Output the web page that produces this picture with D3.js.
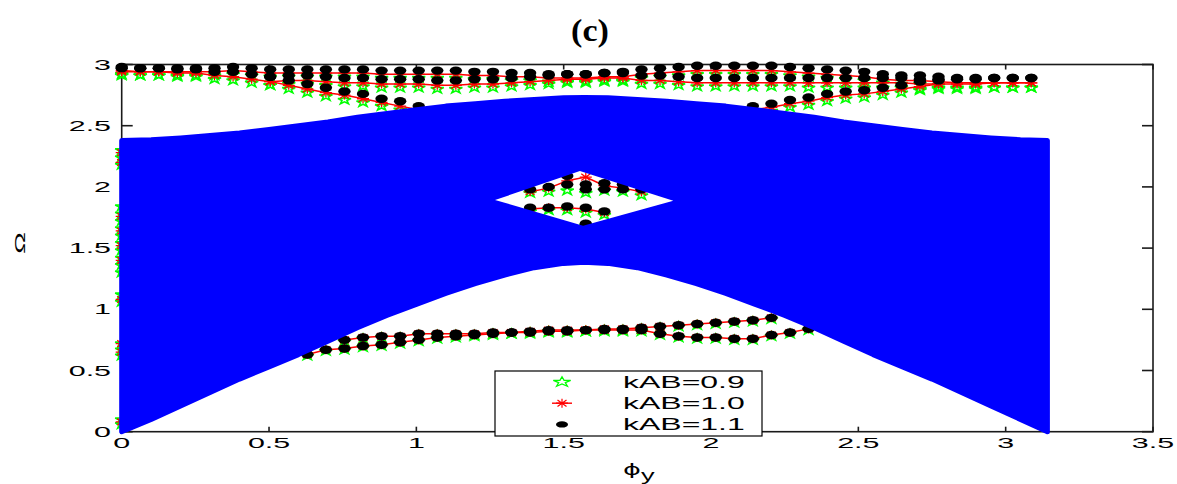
<!DOCTYPE html>
<html>
<head>
<meta charset="UTF-8">
<title>(c) edge bands for kAB</title>
<script src="https://cdn.jsdelivr.net/npm/d3@7"></script>
<style>
  body { margin: 0; background: #fff; }
  svg { display: block; }
  .lbl { font-family: "Liberation Sans", Arial, sans-serif; fill: #000; }
</style>
</head>
<body>
<svg id="chart" width="1177" height="484"></svg>
<script>
// ---- data ----
const xTicks = [0, 0.5, 1, 1.5, 2, 2.5, 3, 3.5];
const xTickLabels = ["0", "0.5", "1", "1.5", "2", "2.5", "3", "3.5"];
const yTicks = [0, 0.5, 1, 1.5, 2, 2.5, 3];
const yTickLabels = ["0", "0.5", "1", "1.5", "2", "2.5", "3"];
const legendLabels = ["kAB=0.9", "kAB=1.0", "kAB=1.1"];

// phi_y sample points of the edge-state markers
const phi = [0, 0.063, 0.126, 0.189, 0.252, 0.315, 0.378, 0.441, 0.504, 0.567,
  0.63, 0.693, 0.756, 0.819, 0.882, 0.945, 1.008, 1.071, 1.134, 1.197,
  1.26, 1.323, 1.386, 1.449, 1.512, 1.575, 1.638, 1.701, 1.764, 1.827,
  1.89, 1.953, 2.016, 2.079, 2.142, 2.205, 2.268, 2.331, 2.394, 2.457,
  2.52, 2.583, 2.646, 2.709, 2.772, 2.835, 2.898, 2.961, 3.024, 3.087];

// bulk band (blue), lower and upper edge
const bulkX = [0, 0.1, 0.2, 0.3, 0.4, 0.5, 0.6, 0.7, 0.8, 0.9, 1.0, 1.1, 1.2, 1.3, 1.4, 1.5, 1.57,
  1.65, 1.75, 1.85, 1.95, 2.05, 2.15, 2.25, 2.35, 2.45, 2.55, 2.65, 2.75, 2.85, 2.95, 3.05, 3.1416];
const bulkLow = [0, 0.10, 0.21, 0.32, 0.43, 0.53, 0.63, 0.74, 0.85, 0.95, 1.04, 1.13, 1.21, 1.28, 1.34, 1.375, 1.385,
  1.375, 1.34, 1.28, 1.21, 1.13, 1.04, 0.95, 0.85, 0.74, 0.63, 0.53, 0.43, 0.32, 0.21, 0.10, 0];
const bulkHigh = [2.38, 2.385, 2.40, 2.42, 2.44, 2.47, 2.50, 2.53, 2.57, 2.60, 2.63, 2.66, 2.68, 2.70, 2.715, 2.728, 2.73,
  2.728, 2.715, 2.70, 2.68, 2.66, 2.63, 2.60, 2.57, 2.53, 2.50, 2.47, 2.44, 2.42, 2.40, 2.385, 2.38];
// gap inside the bulk band
const holeX = [1.267, 1.555, 1.872, 1.566];
const holeY = [1.893, 2.13, 1.887, 1.683];

// kAB = 1.1 (black dots)
const k11T1 = [2.98,2.97,2.97,2.97,2.97,2.97,2.98,2.97,2.96,2.96, 2.96,2.96,2.96,2.96,2.95,2.95,2.95,2.95,2.95,2.94,
  2.94,2.93,2.93,2.92,2.92,2.92,2.93,2.94,2.96,2.97, 2.98,2.99,2.99,2.99,2.99,2.99,2.98,2.97,2.96,2.95,
  2.94,2.92,2.91,2.91,2.90,2.89,2.89,2.89,2.89,2.89];
const k11T2 = [2.97,2.97,2.97,2.96,2.96,2.94,2.94,2.92,2.90,2.87,2.84,2.81,2.78,2.76,2.72,2.70,2.66];
const k11T3 = [2.90,2.91,2.91,2.90,2.89,2.89,2.88,2.88,2.88,2.87, 2.87,2.88,2.88,2.89,2.90,2.91,2.92,2.92,2.93,2.93,
  2.91,2.91,2.90,2.89,2.89,2.89,2.89,2.89,2.89,2.89, 2.89,2.89,2.89,2.89,2.89,2.88,2.88,2.88,2.88,2.89, 2.89,2.89];
const k11T4 = [2.66,2.68,2.71,2.73,2.76,2.78,2.79,2.81,2.83,2.86,2.87];
const k11LA = [0.75,0.77,0.78,0.78,0.80,0.80,0.80,0.80,0.81,0.81,0.82,0.83,0.83,0.83,0.84,0.84,0.85,0.86,0.87,0.88,0.89,0.90,0.91,0.93];
const k11LB = [0.63,0.67,0.68,0.70,0.71,0.73,0.75,0.77,0.78,0.79,0.80,0.81,0.81,0.82,0.82,0.83,0.83,0.83,0.83,0.80,0.78,0.77,0.77,0.76,0.76,0.79,0.81,0.84];
const k11D1 = [1.98,2.00,2.02,2.02,2.03,2.02,1.98];
const k11D2 = [2.09,1.98,1.98,1.98];
const k11D3 = [1.83,1.83,1.84,1.83,1.80];
const k11D4 = [1.70];

// kAB = 1.0 (red asterisks with line)
const k10T1 = [2.95,2.94,2.94,2.94,2.94,2.94,2.95,2.94,2.93,2.93, 2.93,2.93,2.93,2.93,2.92,2.92,2.92,2.92,2.92,2.91,
  2.91,2.90,2.90,2.89,2.89,2.89,2.90,2.90,2.92,2.93, 2.94,2.95,2.95,2.95,2.95,2.95,2.94,2.93,2.92,2.91,
  2.90,2.88,2.87,2.87,2.86,2.85,2.85,2.85,2.85,2.85];
const k10T2 = [2.94,2.94,2.94,2.93,2.93,2.91,2.90,2.88,2.86,2.83,2.80,2.77,2.75,2.72,2.69,2.66,2.63];
const k10T3 = [2.86,2.87,2.87,2.86,2.85,2.85,2.84,2.84,2.84,2.83, 2.83,2.84,2.84,2.85,2.86,2.87,2.88,2.88,2.89,2.89,
  2.87,2.87,2.86,2.85,2.85,2.85,2.85,2.85,2.85,2.85, 2.85,2.85,2.85,2.85,2.85,2.84,2.84,2.84,2.84,2.85, 2.85,2.85];
const k10T4 = [2.63,2.65,2.68,2.70,2.73,2.75,2.76,2.78,2.80,2.82,2.84];
const k10LA = [0.75,0.77,0.78,0.78,0.80,0.80,0.80,0.80,0.81,0.81,0.82,0.83,0.83,0.83,0.84,0.84,0.85,0.86,0.87,0.88,0.89,0.90,0.91,0.93];
const k10LB = [0.63,0.67,0.68,0.70,0.71,0.73,0.75,0.77,0.78,0.79,0.80,0.81,0.81,0.82,0.82,0.83,0.83,0.83,0.83,0.80,0.78,0.77,0.77,0.76,0.76,0.79,0.81,0.84];
const k10D1 = [1.96,1.99,2.05,2.08,2.01,1.99,1.96];
const k10D3 = [1.82,1.83,1.83,1.82,1.79];
const k10D4 = [1.69];
const k10Edge = [0.08,0.65,0.72,1.08,1.40,1.52,1.64,1.76,2.20,2.28];

// kAB = 0.9 (green pentagrams)
const k09T1 = [2.92,2.91,2.91,2.91,2.91,2.91,2.92,2.91,2.90,2.90, 2.90,2.90,2.90,2.90,2.89,2.89,2.89,2.89,2.89,2.88,
  2.88,2.87,2.87,2.86,2.86,2.86,2.87,2.87,2.89,2.90, 2.91,2.92,2.92,2.92,2.92,2.92,2.91,2.90,2.89,2.88,
  2.87,2.85,2.84,2.84,2.83,2.81,2.81,2.81,2.81,2.81];
const k09T2 = [2.91,2.91,2.91,2.90,2.90,2.88,2.87,2.85,2.83,2.80,2.77,2.74,2.71,2.69,2.66,2.63,2.60];
const k09T3 = [2.83,2.84,2.84,2.83,2.82,2.82,2.81,2.81,2.81,2.80, 2.80,2.81,2.81,2.82,2.83,2.84,2.85,2.85,2.86,2.86,
  2.84,2.84,2.83,2.82,2.82,2.82,2.82,2.82,2.82,2.81, 2.81,2.81,2.81,2.81,2.81,2.80,2.80,2.80,2.80,2.81, 2.81,2.81];
const k09T4 = [2.60,2.62,2.65,2.67,2.70,2.72,2.73,2.75,2.77,2.79,2.81];
const k09LA = [0.74,0.76,0.77,0.77,0.79,0.79,0.79,0.79,0.80,0.80,0.81,0.82,0.82,0.82,0.83,0.83,0.84,0.85,0.86,0.87,0.88,0.89,0.90,0.92];
const k09LB = [0.62,0.66,0.67,0.69,0.70,0.72,0.74,0.76,0.77,0.78,0.79,0.80,0.80,0.81,0.81,0.82,0.82,0.82,0.82,0.79,0.77,0.76,0.76,0.75,0.75,0.78,0.80,0.83];
const k09D1 = [1.95,1.96,1.97,1.95,1.97,1.96,1.93];
const k09D3 = [1.80,1.81,1.81,1.79,1.77];
const k09D4 = [1.68];
const k09Edge = [0.06,0.10,0.62,0.67,0.72,1.06,1.12,1.30,1.36,1.42,1.48,1.54,1.60,1.66,1.72,1.78,1.84,2.18,2.24,2.30];

// band -> first phi index
const k09Bands = [[0, k09T1], [0, k09T2], [8, k09T3], [34, k09T4], [12, k09LA], [10, k09LB], [22, k09D1], [22, k09D3], [25, k09D4]];
const k10Bands = [[0, k10T1], [0, k10T2], [8, k10T3], [34, k10T4], [12, k10LA], [10, k10LB], [22, k10D1], [22, k10D3], [25, k10D4]];
const k11Bands = [[0, k11T1], [0, k11T2], [8, k11T3], [34, k11T4], [12, k11LA], [10, k11LB], [22, k11D1], [24, k11D2], [22, k11D3], [25, k11D4]];

// ---- drawing ----
const svg = d3.select("#chart");
const x = d3.scaleLinear().domain([0, 3.5]).range([121.7, 1153]);
const y = d3.scaleLinear().domain([0, 3]).range([431.7, 64.5]);
const SX = 2.1;   // the original figure is stretched sideways

const toPts = b => b[1].map((v, j) => [phi[b[0] + j], v]);

// axes first (data sits on top of them, as in the source)
const ax = svg.append("g").attr("stroke", "#1a1a1a").attr("stroke-width", 1.6).attr("fill", "none");
ax.append("rect").attr("x", x(0)).attr("y", y(3)).attr("width", x(3.5) - x(0)).attr("height", y(0) - y(3));
xTicks.forEach(t => {
  ax.append("line").attr("x1", x(t)).attr("x2", x(t)).attr("y1", y(0)).attr("y2", y(0) - 5);
  ax.append("line").attr("x1", x(t)).attr("x2", x(t)).attr("y1", y(3)).attr("y2", y(3) + 5);
});
yTicks.forEach(t => {
  ax.append("line").attr("x1", x(0)).attr("x2", x(0) + 11).attr("y1", y(t)).attr("y2", y(t));
  ax.append("line").attr("x1", x(3.5)).attr("x2", x(3.5) - 11).attr("y1", y(t)).attr("y2", y(t));
});

// marker shapes
const starPath = d3.symbol(d3.symbolStar, 48)();
const astPath = "M-6,0H6M0,-4.5V4.5M-4.5,-3.3L4.5,3.3M-4.5,3.3L4.5,-3.3";

function drawStars(g, pts, sx, sy) {
  g.selectAll(null).data(pts).enter().append("path")
    .attr("d", starPath)
    .attr("transform", d => `translate(${x(d[0])},${y(d[1])}) scale(${sx},${sy})`)
    .attr("fill", "none").attr("stroke", "#00ff00").attr("stroke-width", 1.6)
    .attr("vector-effect", "non-scaling-stroke");
}
function drawAst(g, pts) {
  g.selectAll(null).data(pts).enter().append("path")
    .attr("d", astPath)
    .attr("transform", d => `translate(${x(d[0])},${y(d[1])})`)
    .attr("fill", "none").attr("stroke", "#ff0000").attr("stroke-width", 1.3);
}
function drawDots(g, pts) {
  g.selectAll(null).data(pts).enter().append("ellipse")
    .attr("cx", d => x(d[0])).attr("cy", d => y(d[1]))
    .attr("rx", 6.2).attr("ry", 4.2).attr("fill", "#000");
}

// kAB = 0.9
const gG = svg.append("g");
k09Bands.forEach(b => drawStars(gG, toPts(b), 1.05, 0.72));
drawStars(gG, k09Edge.map(v => [phi[0], v]), 1.05, 0.72);

// kAB = 1.0
const gR = svg.append("g");
const line = d3.line().x(d => x(d[0])).y(d => y(d[1]));
k10Bands.forEach(b => {
  gR.append("path").attr("d", line(toPts(b))).attr("fill", "none")
    .attr("stroke", "#ff0000").attr("stroke-width", 1.5);
  drawAst(gR, toPts(b));
});
drawAst(gR, k10Edge.map(v => [phi[0], v]));

// kAB = 1.1
const gK = svg.append("g");
k11Bands.forEach(b => drawDots(gK, toPts(b)));

// bulk band on top, with the gap cut out
const defs = svg.append("defs");
const mask = defs.append("mask").attr("id", "gap");
mask.append("rect").attr("width", 1177).attr("height", 484).attr("fill", "#fff");
mask.append("polygon")
  .attr("points", holeX.map((v, i) => x(v) + "," + y(holeY[i])).join(" "))
  .attr("fill", "#000");

const area = d3.area()
  .x(i => x(bulkX[i]))
  .y0(i => y(bulkLow[i]))
  .y1(i => y(bulkHigh[i]));
svg.append("path")
  .attr("d", area(d3.range(bulkX.length)))
  .attr("fill", "#0000ff").attr("stroke", "#0000ff").attr("stroke-width", 5)
  .attr("stroke-linejoin", "round")
  .attr("mask", "url(#gap)");

// tick labels
const tl = svg.append("g").attr("class", "lbl").attr("font-size", 14.5);
xTicks.forEach((t, i) => {
  tl.append("text").attr("text-anchor", "middle")
    .attr("transform", `translate(${x(t)},448) scale(${SX},1)`).text(xTickLabels[i]);
});
yTicks.forEach((t, i) => {
  tl.append("text").attr("text-anchor", "end")
    .attr("transform", `translate(111,${y(t) + 5}) scale(${SX},1)`).text(yTickLabels[i]);
});

// axis titles and panel title
const xl = svg.append("text").attr("font-family", "'DejaVu Sans', sans-serif").attr("font-size", 16)
  .attr("transform", `translate(623,475) scale(1.7,1)`);
xl.append("tspan").text("\u03d5");
xl.append("tspan").attr("dy", 6).attr("font-family", "'Liberation Sans', Arial, sans-serif").text("y");

svg.append("text").attr("class", "lbl").attr("font-size", 14).attr("text-anchor", "middle")
  .attr("transform", `translate(25,243) rotate(-90) scale(${SX},1)`).text("\u03a9");

svg.append("text").attr("font-family", "'Liberation Serif', 'Times New Roman', serif")
  .attr("font-weight", "bold").attr("font-size", 31).attr("text-anchor", "middle")
  .attr("transform", "translate(590,41) scale(1.1,1)").text("(c)");

// legend
const lg = svg.append("g").attr("transform", "translate(495,371)");
lg.append("rect").attr("width", 267).attr("height", 65).attr("fill", "#fff")
  .attr("stroke", "#000").attr("stroke-width", 1.2);
legendLabels.forEach((lab, i) => {
  const cy = 11 + i * 21.2;
  const mx = 67;
  if (i === 0) {
    lg.append("path").attr("d", starPath)
      .attr("transform", `translate(${mx},${cy}) scale(1.4,0.8)`)
      .attr("fill", "none").attr("stroke", "#00ff00").attr("stroke-width", 1.3)
      .attr("vector-effect", "non-scaling-stroke");
  } else if (i === 1) {
    lg.append("line").attr("x1", mx - 10).attr("x2", mx + 10).attr("y1", cy).attr("y2", cy)
      .attr("stroke", "#ff0000").attr("stroke-width", 1.4);
    lg.append("path").attr("d", astPath).attr("transform", `translate(${mx},${cy})`)
      .attr("fill", "none").attr("stroke", "#ff0000").attr("stroke-width", 1.2);
  } else {
    lg.append("ellipse").attr("cx", mx).attr("cy", cy).attr("rx", 6).attr("ry", 3.2).attr("fill", "#000");
  }
  lg.append("text").attr("class", "lbl").attr("font-size", 16)
    .attr("transform", `translate(128,${cy + 6}) scale(2.0,1)`).text(lab);
});
</script>
</body>
</html>
